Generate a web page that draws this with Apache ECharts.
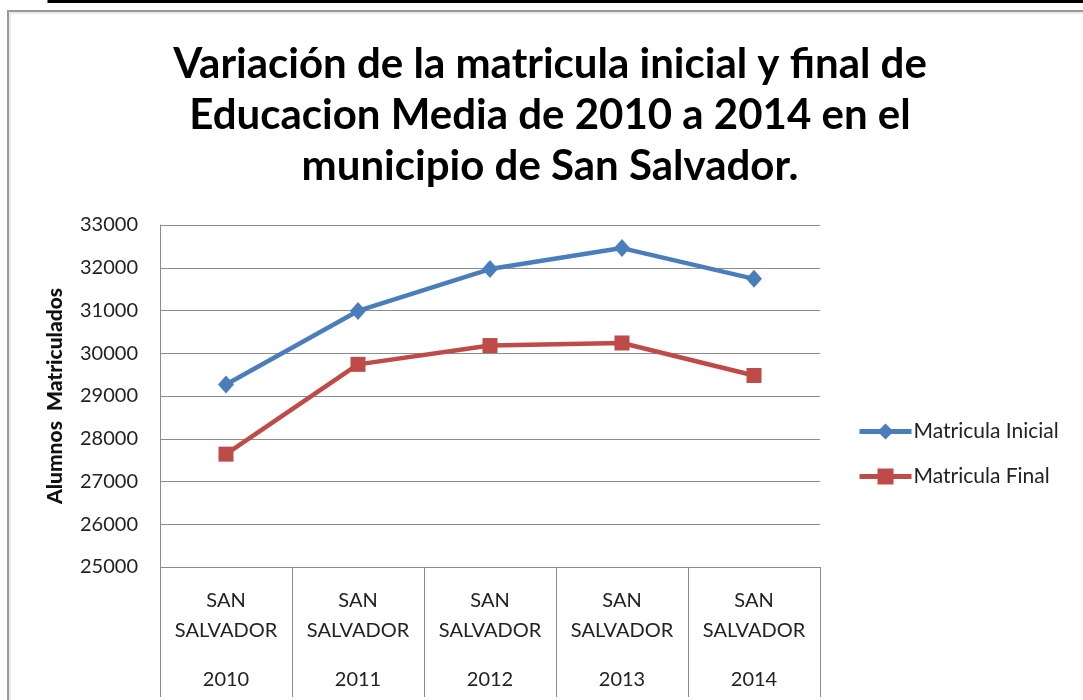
<!DOCTYPE html>
<html>
<head>
<meta charset="utf-8">
<script src="https://cdn.jsdelivr.net/npm/echarts@6/dist/echarts.min.js"></script>
<style>
html,body{margin:0;padding:0;background:#fff;}
#chart{width:1083px;height:700px;}
</style>
</head>
<body>
<div id="chart"></div>
<script>
// datos
var municipio = ['SAN SALVADOR','SAN SALVADOR','SAN SALVADOR','SAN SALVADOR','SAN SALVADOR'];
var anios = ['2010','2011','2012','2013','2014'];
var matriculaInicial = [29270, 30990, 31970, 32460, 31740];
var matriculaFinal = [27640, 29740, 30180, 30240, 29480];
var yMin = 25000, yMax = 33000, yPaso = 1000;

var categorias = [];
for(var i = 0; i < anios.length; i++){
	categorias.push(municipio[i] + '|' + anios[i]);
}

var fuente = 'Lato';
var myChart = echarts.init(document.getElementById('chart'));

var option = {
	animation: false,
	backgroundColor: '#fff',
	textStyle: { fontFamily: fuente },
	title: {
		text: 'Variación de la matricula inicial y final de\nEducacion Media de 2010 a 2014 en el\nmunicipio de San Salvador.',
		left: 545,
		top: 34,
		textAlign: 'center',
		textStyle: {
			fontFamily: fuente,
			fontWeight: 'bold',
			fontSize: 42,
			lineHeight: 51,
			color: '#000'
		}
	},
	legend: {
		orient: 'vertical',
		left: 852,
		top: 416,
		itemWidth: 52,
		itemHeight: 20,
		itemGap: 24,
		lineStyle: { width: 5 },
		textStyle: { fontFamily: fuente, fontSize: 21, color: '#222', padding: [0, 0, 0, -3] },
		data: ['Matricula Inicial', 'Matricula Final']
	},
	grid: {
		left: 160,
		right: 263,
		top: 225,
		bottom: 133
	},
	xAxis: {
		type: 'category',
		data: categorias,
		axisLine: { show: false },
		axisTick: {
			show: true,
			length: 130,
			inside: false,
			lineStyle: { color: '#8c8c8c', width: 1 }
		},
		axisLabel: {
			margin: 19,
			interval: 0,
			formatter: function(v){
				var p = v.split('|');
				var partes = p[0].split(' ');
				return '{a|' + partes[0] + '}\n{a|' + partes[1] + '}\n{b|' + p[1] + '}';
			},
			rich: {
				a: { fontFamily: fuente, fontSize: 20, lineHeight: 30, color: '#222' },
				b: { fontFamily: fuente, fontSize: 20, lineHeight: 68, color: '#222' }
			}
		}
	},
	yAxis: {
		type: 'value',
		min: yMin,
		max: yMax,
		interval: yPaso,
		name: 'Alumnos  Matriculados',
		nameLocation: 'middle',
		nameGap: 94,
		nameTextStyle: { fontFamily: fuente, fontWeight: 900, fontSize: 21, color: '#111' },
		axisLine: { show: true, lineStyle: { color: '#8c8c8c', width: 1 } },
		axisTick: { show: false },
		axisLabel: {
			margin: 22,
			fontFamily: fuente,
			fontSize: 20,
			color: '#222',
			formatter: function(v){ return String(v); }
		},
		splitLine: { show: true, lineStyle: { color: '#8c8c8c', width: 1 } }
	},
	series: [
		{
			name: 'Matricula Inicial',
			type: 'line',
			data: matriculaInicial,
			symbol: 'diamond',
			symbolSize: [16, 18],
			color: '#4A7EBB',
			lineStyle: { width: 4.5, color: '#4A7EBB' },
			itemStyle: { color: '#4A7EBB' }
		},
		{
			name: 'Matricula Final',
			type: 'line',
			data: matriculaFinal,
			symbol: 'rect',
			symbolSize: 15,
			color: '#BE4B48',
			lineStyle: { width: 4.5, color: '#BE4B48' },
			itemStyle: { color: '#BE4B48' }
		}
	],
	graphic: [
		// marco del grafico
		{ type: 'rect', shape: { x: 8, y: 11, width: 1100, height: 720 }, style: { fill: 'none', stroke: '#9a9a9a', lineWidth: 2 }, silent: true },
		{ type: 'line', shape: { x1: 10, y1: 13, x2: 1083, y2: 13 }, style: { stroke: '#d6d6d6', lineWidth: 1 }, silent: true },
		{ type: 'line', shape: { x1: 10, y1: 13, x2: 10, y2: 700 }, style: { stroke: '#d6d6d6', lineWidth: 1 }, silent: true },
		// borde de la tabla de arriba
		{ type: 'line', shape: { x1: 48, y1: 1.5, x2: 1083, y2: 1.5 }, style: { stroke: '#000', lineWidth: 3 }, silent: true },
		{ type: 'line', shape: { x1: 48, y1: 0, x2: 48, y2: 3 }, style: { stroke: '#000', lineWidth: 1 }, silent: true },
		{ type: 'line', shape: { x1: 230, y1: 0, x2: 230, y2: 3 }, style: { stroke: '#000', lineWidth: 1 }, silent: true },
		{ type: 'line', shape: { x1: 457, y1: 0, x2: 457, y2: 3 }, style: { stroke: '#000', lineWidth: 1 }, silent: true },
		{ type: 'line', shape: { x1: 645, y1: 0, x2: 645, y2: 3 }, style: { stroke: '#000', lineWidth: 1 }, silent: true },
		{ type: 'line', shape: { x1: 815, y1: 0, x2: 815, y2: 3 }, style: { stroke: '#000', lineWidth: 1 }, silent: true },
		{ type: 'line', shape: { x1: 983, y1: 0, x2: 983, y2: 3 }, style: { stroke: '#000', lineWidth: 1 }, silent: true }
	]
};

myChart.setOption(option);
window.onresize = myChart.resize;
</script>
</body>
</html>
